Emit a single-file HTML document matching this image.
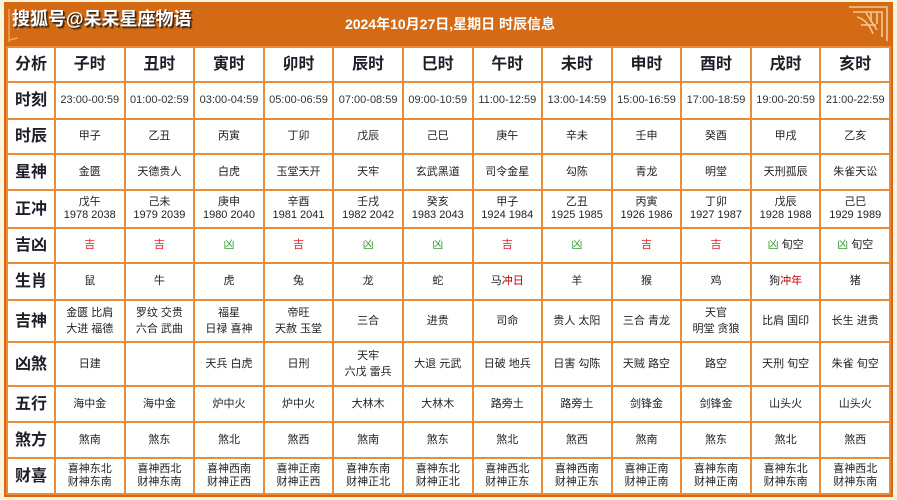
<!DOCTYPE html>
<html><head><meta charset="utf-8">
<style>
html,body{margin:0;padding:0;}
body{width:897px;height:500px;position:relative;background:#fbf4dc;overflow:hidden;font-family:"Liberation Sans","Noto Sans CJK SC",sans-serif;}
#frame{position:absolute;left:4px;top:2px;width:889px;height:495px;background:#d46b14;}
#wm{position:absolute;left:12px;top:6px;font-size:18px;font-weight:bold;color:#fff;line-height:26px;text-shadow:1px 1px 0 #3a2a1a,2px 2px 1px rgba(0,0,0,.55);white-space:nowrap;}
#title{position:absolute;left:250px;width:400px;top:14px;text-align:center;font-size:14px;font-weight:bold;color:#fff;line-height:20px;white-space:nowrap;}
#g{position:absolute;left:6px;top:46px;width:881px;height:445px;padding:2px;background:#e98b3a;display:grid;gap:2px;
grid-template-columns:46px repeat(12,1fr);
grid-template-rows:33px 35px 33px 34px 36px 33px 35px 40px 42px 34px 34px 34px;}
#g>div{background:#fff;display:flex;align-items:center;justify-content:center;text-align:center;font-size:11px;line-height:13px;color:#222;white-space:nowrap;}
#g>div.h{font-size:16px;font-weight:bold;color:#1e1e28;}
#g>div.t{font-size:11px;color:#333;}
.r8 > div{line-height:17px !important;}
.r{color:#e3232a;}
.gr{color:#3a9a3a;}
.dr{color:#c00000;}
#g>div.l2{line-height:16px;}
</style></head><body>
<div id="frame"></div>
<svg style="position:absolute;left:0;top:0" width="897" height="50">
<g fill="none" stroke="#e9a564" stroke-width="1.5">
<path d="M9 9 V42"/><path d="M12 14 L18 30"/><path d="M9 40 L18 38"/>
</g>
<g fill="none" stroke="#f2c893" stroke-width="1.6">
<path d="M849 7 H887 V41"/>
<path d="M853 12 H882 V37"/>
<path d="M857 17 Q868 20 873 34"/>
<path d="M866 13 L877 30"/>
<path d="M871 12 V22"/><path d="M877 12 V24"/>
<path d="M861 25 H876"/>
</g>
</svg>
<div id="wm">搜狐号@呆呆星座物语</div>
<div id="title">2024年10月27日,星期日 时辰信息</div>
<div id="g">
<div class="h">分析</div><div class="h">子时</div><div class="h">丑时</div><div class="h">寅时</div><div class="h">卯时</div><div class="h">辰时</div><div class="h">巳时</div><div class="h">午时</div><div class="h">未时</div><div class="h">申时</div><div class="h">酉时</div><div class="h">戌时</div><div class="h">亥时</div>

<div class="h">时刻</div><div class="t">23:00-00:59</div><div class="t">01:00-02:59</div><div class="t">03:00-04:59</div><div class="t">05:00-06:59</div><div class="t">07:00-08:59</div><div class="t">09:00-10:59</div><div class="t">11:00-12:59</div><div class="t">13:00-14:59</div><div class="t">15:00-16:59</div><div class="t">17:00-18:59</div><div class="t">19:00-20:59</div><div class="t">21:00-22:59</div>

<div class="h">时辰</div><div>甲子</div><div>乙丑</div><div>丙寅</div><div>丁卯</div><div>戊辰</div><div>己巳</div><div>庚午</div><div>辛未</div><div>壬申</div><div>癸酉</div><div>甲戌</div><div>乙亥</div>

<div class="h">星神</div><div>金匮</div><div>天德贵人</div><div>白虎</div><div>玉堂天开</div><div>天牢</div><div>玄武黑道</div><div>司令金星</div><div>勾陈</div><div>青龙</div><div>明堂</div><div>天刑孤辰</div><div>朱雀天讼</div>

<div class="h">正冲</div><div>戊午<br>1978 2038</div><div>己未<br>1979 2039</div><div>庚申<br>1980 2040</div><div>辛酉<br>1981 2041</div><div>壬戌<br>1982 2042</div><div>癸亥<br>1983 2043</div><div>甲子<br>1924 1984</div><div>乙丑<br>1925 1985</div><div>丙寅<br>1926 1986</div><div>丁卯<br>1927 1987</div><div>戊辰<br>1928 1988</div><div>己巳<br>1929 1989</div>

<div class="h">吉凶</div><div><span class="r">吉</span></div><div><span class="r">吉</span></div><div><span class="gr">凶</span></div><div><span class="r">吉</span></div><div><span class="gr">凶</span></div><div><span class="gr">凶</span></div><div><span class="r">吉</span></div><div><span class="gr">凶</span></div><div><span class="r">吉</span></div><div><span class="r">吉</span></div><div><span class="gr">凶</span>&nbsp;旬空</div><div><span class="gr">凶</span>&nbsp;旬空</div>

<div class="h">生肖</div><div>鼠</div><div>牛</div><div>虎</div><div>兔</div><div>龙</div><div>蛇</div><div>马<span class="dr">冲日</span></div><div>羊</div><div>猴</div><div>鸡</div><div>狗<span class="dr">冲年</span></div><div>猪</div>

<div class="h">吉神</div><div class="l2">金匮 比肩<br>大进 福德</div><div class="l2">罗纹 交贵<br>六合 武曲</div><div class="l2">福星<br>日禄 喜神</div><div class="l2">帝旺<br>天赦 玉堂</div><div>三合</div><div>进贵</div><div>司命</div><div>贵人 太阳</div><div>三合 青龙</div><div class="l2">天官<br>明堂 贪狼</div><div>比肩 国印</div><div>长生 进贵</div>

<div class="h">凶煞</div><div>日建</div><div></div><div>天兵 白虎</div><div>日刑</div><div class="l2">天牢<br>六戊 雷兵</div><div>大退 元武</div><div>日破 地兵</div><div>日害 勾陈</div><div>天贼 路空</div><div>路空</div><div>天刑 旬空</div><div>朱雀 旬空</div>

<div class="h">五行</div><div>海中金</div><div>海中金</div><div>炉中火</div><div>炉中火</div><div>大林木</div><div>大林木</div><div>路旁土</div><div>路旁土</div><div>剑锋金</div><div>剑锋金</div><div>山头火</div><div>山头火</div>

<div class="h">煞方</div><div>煞南</div><div>煞东</div><div>煞北</div><div>煞西</div><div>煞南</div><div>煞东</div><div>煞北</div><div>煞西</div><div>煞南</div><div>煞东</div><div>煞北</div><div>煞西</div>

<div class="h">财喜</div><div>喜神东北<br>财神东南</div><div>喜神西北<br>财神东南</div><div>喜神西南<br>财神正西</div><div>喜神正南<br>财神正西</div><div>喜神东南<br>财神正北</div><div>喜神东北<br>财神正北</div><div>喜神西北<br>财神正东</div><div>喜神西南<br>财神正东</div><div>喜神正南<br>财神正南</div><div>喜神东南<br>财神正南</div><div>喜神东北<br>财神东南</div><div>喜神西北<br>财神东南</div>
</div>
</body></html>
